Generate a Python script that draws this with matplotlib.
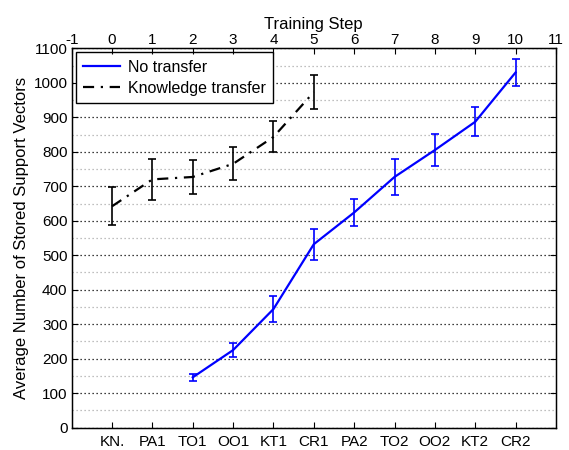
import matplotlib
matplotlib.use("Agg")
import matplotlib.pyplot as plt
from matplotlib.lines import Line2D
import numpy as np

plt.rcParams['font.family'] = ['Liberation Sans', 'DejaVu Sans']

categories = ['KN.', 'PA1', 'TO1', 'OO1', 'KT1', 'CR1', 'PA2', 'TO2', 'OO2', 'KT2', 'CR2']
steps = list(range(len(categories)))

no_transfer_steps = [2, 3, 4, 5, 6, 7, 8, 9, 10]
no_transfer_mean = [146, 225, 344, 532, 624, 727, 805, 887, 1030]
no_transfer_err = [10, 20, 37, 45, 38, 51, 46, 42, 38]

kt_steps = [0, 1, 2, 3, 4, 5]
kt_mean = [642, 720, 727, 765, 843, 973]
kt_err = [55, 60, 50, 48, 45, 50]

top_ticks = list(range(-1, 12))
y_ticks = list(range(0, 1101, 100))

kt_dashes = (5, 3, 1, 3)

fig = plt.figure(figsize=(5.69, 4.5), dpi=100)
ax = fig.add_axes([0.126, 0.0496, 0.851, 0.843])

ax.errorbar(no_transfer_steps, no_transfer_mean, yerr=no_transfer_err, color='#0000ff',
            lw=1.6, elinewidth=1.2, capsize=3, capthick=1.2, zorder=3)
ax.errorbar(kt_steps, kt_mean, yerr=kt_err, color='black', lw=1.6, elinewidth=1.2,
            capsize=3, capthick=1.2, dashes=kt_dashes, zorder=3)

ax.set_xlim(-1, 11)
ax.set_ylim(0, 1100)
ax.set_xticks(steps)
ax.set_xticklabels(categories, fontsize=11)
ax.set_yticks(y_ticks)
ax.set_yticks(list(range(50, 1100, 100)), minor=True)
ax.tick_params(axis='y', which='major', direction='in', length=4, labelsize=11, right=True, pad=3)
ax.tick_params(axis='y', which='minor', length=0)
ax.tick_params(axis='x', direction='in', length=4, labelsize=11, pad=5)
ax.yaxis.grid(True, which='major', color='black', linestyle=(0, (1, 2.2)), lw=0.9)
ax.yaxis.grid(True, which='minor', color='#aaaaaa', linestyle=(0, (1, 2.2)), lw=0.9)
ax.set_axisbelow(True)
ax.set_ylabel('Average Number of Stored Support Vectors', fontsize=12, labelpad=3)
for s in ax.spines.values():
    s.set_linewidth(1.0)

ax2 = ax.twiny()
ax2.set_xlim(-1, 11)
ax2.set_xticks(top_ticks)
ax2.set_xticklabels([str(t) for t in top_ticks], fontsize=11)
ax2.tick_params(axis='x', direction='in', length=4, labelsize=11, pad=1)
ax2.set_xlabel('Training Step', fontsize=12, labelpad=3)

handles = [Line2D([0], [0], color='#0000ff', lw=1.6),
           Line2D([0], [0], color='black', lw=1.6, dashes=kt_dashes)]
leg = ax.legend(handles, ['No transfer', 'Knowledge transfer'], loc='upper left', fontsize=11.5,
                frameon=True, fancybox=False, edgecolor='black', framealpha=1,
                handlelength=2.3, handletextpad=0.5, borderpad=0.45,
                labelspacing=0.4, borderaxespad=0.25)
leg.get_frame().set_linewidth(1.0)

fig.savefig('out.png', dpi=100)
